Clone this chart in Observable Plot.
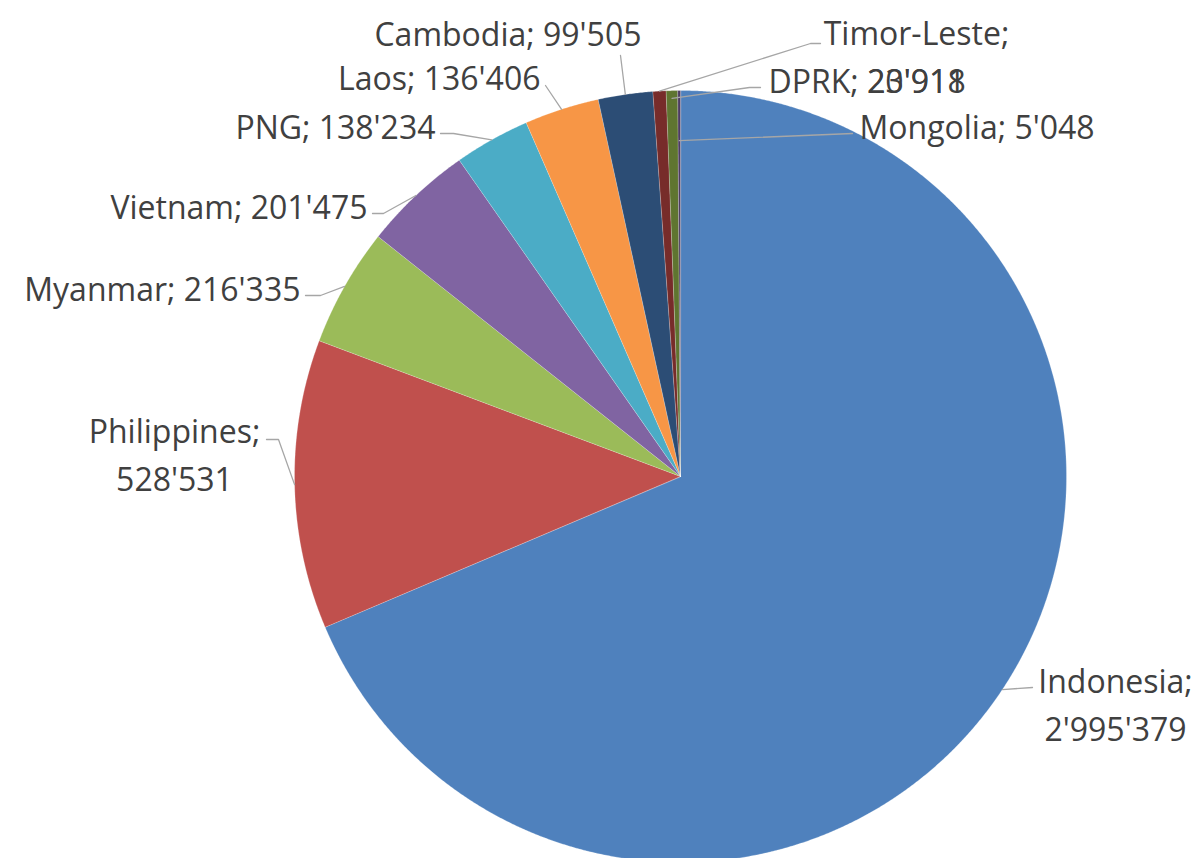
<!DOCTYPE html>
<html>
<head>
<meta charset="utf-8">
<script src="https://cdn.jsdelivr.net/npm/d3@7"></script>
<script src="https://cdn.jsdelivr.net/npm/@observablehq/plot@0.6"></script>
<style>
  html, body { margin: 0; padding: 0; background: #fff; }
  #chart svg { display: block; }
</style>
</head>
<body>
<div id="chart"></div>
<script>
// ---- data ----
const countries = ["Indonesia", "Philippines", "Myanmar", "Vietnam", "PNG", "Laos", "Cambodia", "Timor-Leste", "DPRK", "Mongolia"];
const values = [2995379, 528531, 216335, 201475, 138234, 136406, 99505, 23918, 20911, 5048];
const colors = ["#4F81BD", "#C0504D", "#9BBB59", "#8064A2", "#4BACC6", "#F79646", "#2C4D75", "#772C2A", "#5F7530", "#4D3B62"];

// ---- layout (label placement, not data) ----
const W = 1196, H = 858;
const cx = 680, cy = 476, R = 386;
const labelLayout = {
  "Indonesia":   {x: 1115, y: 701, anchor: "middle", wrap: true,  k: 1,    path: [[1032, 687]]},
  "Philippines": {x: 174,  y: 451, anchor: "middle", wrap: true,  k: 1,    path: [[278, 439], [266, 439]]},
  "Myanmar":     {x: 300,  y: 285, anchor: "end",    wrap: false, k: 1,    path: [[320, 295], [305, 295]]},
  "Vietnam":     {x: 367,  y: 203, anchor: "end",    wrap: false, k: 1,    path: [[383, 213], [372, 213]]},
  "PNG":         {x: 435,  y: 123, anchor: "end",    wrap: false, k: 1,    path: [[453, 133], [440, 133]]},
  "Laos":        {x: 540,  y: 74,  anchor: "end",    wrap: false, k: 1,    path: [[545, 85]]},
  "Cambodia":    {x: 641,  y: 30,  anchor: "end",    wrap: false, k: 1,    path: [[620, 55]]},
  "Timor-Leste": {x: 916,  y: 53,  anchor: "middle", wrap: true,  k: 1,    path: [[810, 43], [820, 43]]},
  "DPRK":        {x: 768,  y: 77,  anchor: "start",  wrap: false, k: 0.98, path: [[749, 87], [760, 87]]},
  "Mongolia":    {x: 859,  y: 123, anchor: "start",  wrap: false, k: 0.87, path: [[852, 133]]}
};

const fmt = v => d3.format(",")(v).replace(/,/g, "'");
const arcs = d3.pie().sort(null).value(d => d)(values);

// slice outlines built from the pie angles
const slicePts = [];
arcs.forEach((a, i) => {
  const c = countries[i];
  slicePts.push({country: c, x: cx, y: cy});
  const n = Math.max(2, Math.ceil((a.endAngle - a.startAngle) / 0.004));
  for (let j = 0; j <= n; j++) {
    const t = a.startAngle + (a.endAngle - a.startAngle) * j / n;
    slicePts.push({country: c, x: cx + R * Math.sin(t), y: cy - R * Math.cos(t)});
  }
});

// leader lines: from slice mid-angle to label
const leaderPts = [];
arcs.forEach((a, i) => {
  const c = countries[i];
  const L = labelLayout[c];
  const m = (a.startAngle + a.endAngle) / 2;
  leaderPts.push({country: c, x: cx + R * L.k * Math.sin(m), y: cy - R * L.k * Math.cos(m)});
  L.path.forEach(p => leaderPts.push({country: c, x: p[0], y: p[1]}));
});

const labels = countries.map((c, i) => {
  const L = labelLayout[c];
  return {country: c, x: L.x, y: L.y, anchor: L.anchor,
          text: c + (L.wrap ? ";\n" : "; ") + fmt(values[i])};
});

const textOpts = {x: "x", y: "y", text: "text", fill: "#404040", fontSize: 32, lineHeight: 1.5};

const chart = Plot.plot({
  width: W,
  height: H,
  margin: 0,
  x: {domain: [0, W], range: [0, W], axis: null},
  y: {domain: [0, H], range: [0, H], axis: null},
  color: {type: "ordinal", domain: countries, range: colors},
  style: {background: "#fff", fontFamily: "'Open Sans', sans-serif"},
  marks: [
    Plot.line(slicePts, {x: "x", y: "y", z: "country", fill: "country", stroke: "#fff", strokeWidth: 0.3, strokeOpacity: 0.8, curve: "linear-closed"}),
    Plot.line(leaderPts, {x: "x", y: "y", z: "country", stroke: "#A6A6A6", strokeWidth: 1.3}),
    Plot.text(labels.filter(d => d.anchor === "middle"), {...textOpts, textAnchor: "middle"}),
    Plot.text(labels.filter(d => d.anchor === "end"), {...textOpts, textAnchor: "end"}),
    Plot.text(labels.filter(d => d.anchor === "start"), {...textOpts, textAnchor: "start"})
  ]
});
document.getElementById("chart").appendChild(chart);
</script>
</body>
</html>
